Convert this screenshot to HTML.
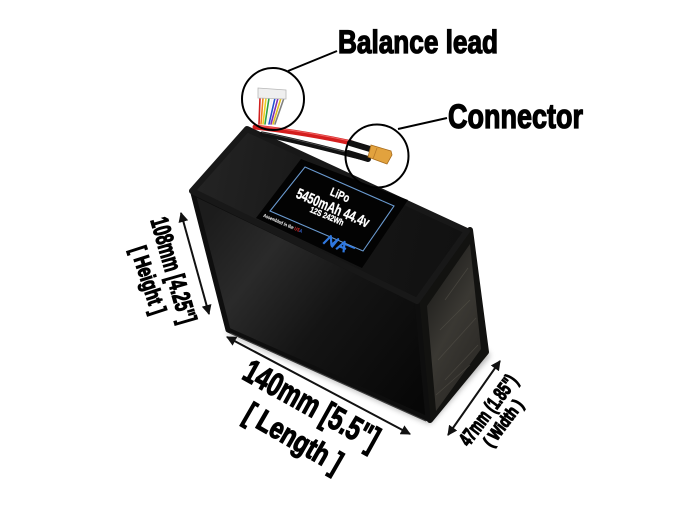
<!DOCTYPE html>
<html><head><meta charset="utf-8"><style>
html,body{margin:0;padding:0;background:#fff;}
svg{display:block;}
text{font-family:"Liberation Sans",sans-serif;font-weight:bold;}
</style></head><body>
<svg width="686" height="511" viewBox="0 0 686 511" xmlns="http://www.w3.org/2000/svg">
<defs>
  <linearGradient id="gTop" gradientUnits="userSpaceOnUse" x1="200" y1="190" x2="460" y2="240">
    <stop offset="0" stop-color="#232323"/><stop offset="0.5" stop-color="#161616"/><stop offset="1" stop-color="#111"/>
  </linearGradient>
  <linearGradient id="gFront" gradientUnits="userSpaceOnUse" x1="200" y1="230" x2="420" y2="400">
    <stop offset="0" stop-color="#1c1c1c"/><stop offset="0.25" stop-color="#2a2a2a"/><stop offset="0.55" stop-color="#141414"/><stop offset="1" stop-color="#070707"/>
  </linearGradient>
  <linearGradient id="gRight" gradientUnits="userSpaceOnUse" x1="430" y1="300" x2="485" y2="330">
    <stop offset="0" stop-color="#262522"/><stop offset="0.5" stop-color="#3a3833"/><stop offset="1" stop-color="#302e2a"/>
  </linearGradient>
  <filter id="blur" x="-20%" y="-20%" width="140%" height="140%"><feGaussianBlur stdDeviation="3"/></filter>
  <marker id="ah" viewBox="0 0 10 10" refX="9" refY="5" markerWidth="5" markerHeight="5" orient="auto-start-reverse">
    <path d="M0,0 L10,5 L0,10 z" fill="#111"/>
  </marker>
</defs>

<!-- shadow -->
<polygon points="228,334 430,424 490,356 486,350 428,418 228,330" fill="#888" opacity="0.7" filter="url(#blur)"/>

<!-- right face -->
<polygon points="418,300 470,230 486,352 430,420" fill="#121210" stroke="#121210" stroke-width="6" stroke-linejoin="round"/>
<polygon points="427,306 470,244 481,349 436,411" fill="url(#gRight)"/>
<g stroke="#55524a" stroke-width="0.8" opacity="0.6">
  <line x1="440" y1="330" x2="470" y2="300"/>
  <line x1="438" y1="360" x2="476" y2="318"/>
  <line x1="445" y1="380" x2="478" y2="345"/>
  <line x1="436" y1="395" x2="470" y2="365"/>
  <line x1="445" y1="300" x2="468" y2="268"/>
</g>

<!-- front face -->
<polygon points="193,193 417,301 428,419 228,330" fill="url(#gFront)" stroke="#0e0e0e" stroke-width="5" stroke-linejoin="round"/>
<line x1="230" y1="333" x2="426" y2="421" stroke="#3a3a3a" stroke-width="1.2"/>

<!-- top face -->
<polygon points="247,129 467,231 417,301 192,191" fill="url(#gTop)" stroke="#181818" stroke-width="6" stroke-linejoin="round"/>

<!-- label -->
<polygon points="301,159 408,200 362,268 256,218" fill="#030303"/>
<polygon points="305,167 394,206 363,251 270,211" fill="none" stroke="#6a9ad0" stroke-width="1.1"/>
<g fill="#fff" stroke="#fff" stroke-width="0.3">
  <text transform="translate(340,195) rotate(23)" text-anchor="middle" y="4" font-size="12" textLength="20" lengthAdjust="spacingAndGlyphs">LiPo</text>
  <text transform="translate(333,208) rotate(23)" text-anchor="middle" y="5" font-size="15" textLength="78" lengthAdjust="spacingAndGlyphs">5450mAh 44.4v</text>
  <text transform="translate(327,216) rotate(23)" text-anchor="middle" y="3" font-size="8.5" textLength="36" lengthAdjust="spacingAndGlyphs">12S 242Wh</text>
  <text transform="translate(283,223) rotate(23)" text-anchor="middle" y="2" font-size="5" stroke-width="0" textLength="42" lengthAdjust="spacingAndGlyphs">Assembled in the <tspan fill="#e03030">US</tspan><tspan fill="#3a6ad8">A</tspan></text>
</g>
<g transform="translate(339,245) rotate(23)" fill="none" stroke="#2f78e0" stroke-width="2.2" stroke-linejoin="round">
  <path d="M-15,5 L-11,-5 L-7,3 L-3,-5 L-6,5"/>
  <path d="M-1,5 L4,-5 L7,5 M1,1 L8,1"/>
  <path d="M5,-3 L16,-3" stroke-width="1.5"/>
</g>

<!-- balance lead wires -->
<g stroke-width="1.6" stroke-linecap="round">
  <line x1="260" y1="98" x2="259" y2="124" stroke="#d02020"/>
  <line x1="263" y1="98" x2="261" y2="124" stroke="#f08020"/>
  <line x1="266" y1="98" x2="263" y2="124" stroke="#e8d020"/>
  <line x1="269" y1="98" x2="265" y2="124" stroke="#30a040"/>
  <line x1="272" y1="98" x2="267" y2="124" stroke="#f4f4f4"/>
  <line x1="275" y1="98" x2="269" y2="124" stroke="#2050d0"/>
  <line x1="278" y1="98" x2="271" y2="124" stroke="#8030b0"/>
  <line x1="281" y1="98" x2="273" y2="124" stroke="#e0c020"/>
  <line x1="284" y1="98" x2="275" y2="124" stroke="#808080"/>
</g>
<polygon points="258,88 286,90 286,99 258,98" fill="#efefef" stroke="#b8b8b8" stroke-width="0.8"/>

<!-- main leads -->
<path d="M262,134 C295,140 330,150 364,158" fill="none" stroke="#121212" stroke-width="5" stroke-linecap="round"/>
<path d="M262,132.5 C295,138.5 330,148.5 364,156.5" fill="none" stroke="#555" stroke-width="0.8"/>
<path d="M255,127 C290,131 325,137 352,143" fill="none" stroke="#d41e1e" stroke-width="5" stroke-linecap="round"/>
<path d="M255,125.5 C290,129.5 325,135.5 352,141.5" fill="none" stroke="#f06060" stroke-width="1"/>
<path d="M350,143 L370,149" stroke="#111" stroke-width="6" stroke-linecap="round"/>
<path d="M348,153 L368,159" stroke="#111" stroke-width="6" stroke-linecap="round"/>
<polygon points="371,145 391,151 392,155 387,164 368,157" fill="#e2a23e" stroke="#a86c1c" stroke-width="0.8"/>
<line x1="377" y1="148" x2="373" y2="159" stroke="#b87a28" stroke-width="0.8"/>

<!-- callout circles and lines -->
<g fill="none" stroke="#000" stroke-width="2">
  <circle cx="273" cy="99" r="31"/>
  <circle cx="377" cy="156" r="31.5"/>
  <line x1="288" y1="71" x2="337" y2="51"/>
  <line x1="398" y1="129" x2="447" y2="118"/>
</g>

<!-- callout text -->
<text x="338" y="53" font-size="32" textLength="160" lengthAdjust="spacingAndGlyphs" fill="#000" stroke="#000" stroke-width="1.3">Balance lead</text>
<text x="448" y="128" font-size="34" textLength="135" lengthAdjust="spacingAndGlyphs" fill="#000" stroke="#000" stroke-width="1.3">Connector</text>

<!-- dimension arrows -->
<g stroke="#111" stroke-width="2" fill="none">
  <line x1="181" y1="213" x2="209" y2="314" marker-start="url(#ah)" marker-end="url(#ah)"/>
  <line x1="227" y1="337" x2="410" y2="434" marker-start="url(#ah)" marker-end="url(#ah)"/>
  <line x1="500" y1="361" x2="448" y2="435" marker-start="url(#ah)" marker-end="url(#ah)"/>
</g>

<!-- dimension text -->
<g fill="#000" stroke="#000" stroke-width="1.2">
  <text transform="translate(174,270) rotate(74)" text-anchor="middle" y="9" font-size="25" textLength="109" lengthAdjust="spacingAndGlyphs">108mm [4.25"]</text>
  <text transform="translate(149,280) rotate(72)" text-anchor="middle" y="8" font-size="22" textLength="70" lengthAdjust="spacingAndGlyphs">[ Height ]</text>
  <text transform="translate(312,404) rotate(29)" text-anchor="middle" y="12" font-size="33" textLength="150" lengthAdjust="spacingAndGlyphs">140mm [5.5"]</text>
  <text transform="translate(294,437) rotate(30)" text-anchor="middle" y="11" font-size="30" textLength="108" lengthAdjust="spacingAndGlyphs">[ Length ]</text>
  <text transform="translate(488,410) rotate(-53)" text-anchor="middle" y="7" font-size="20" textLength="83" lengthAdjust="spacingAndGlyphs">47mm (1.85")</text>
  <text transform="translate(503,423) rotate(-53)" text-anchor="middle" y="6" font-size="17" textLength="54" lengthAdjust="spacingAndGlyphs">( Width )</text>
</g>
</svg>
</body></html>
